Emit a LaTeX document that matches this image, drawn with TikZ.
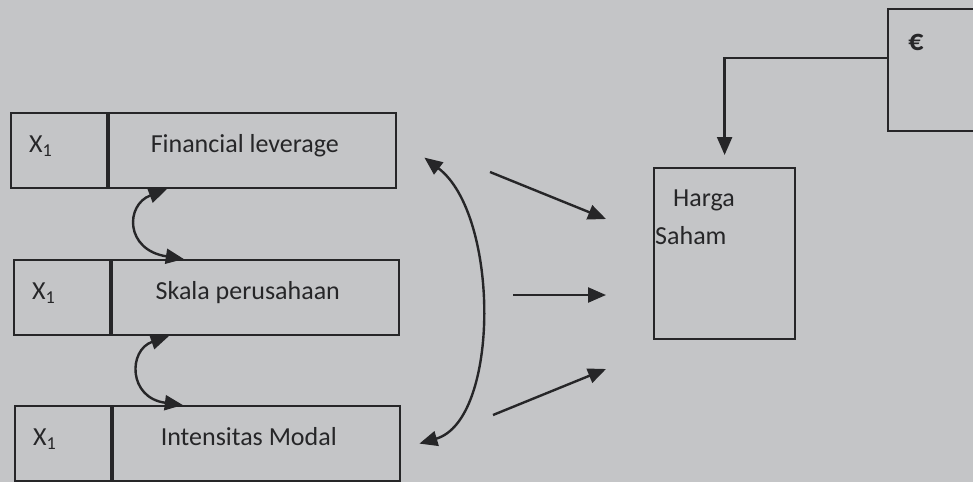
\documentclass[tikz,border=0pt]{standalone}
\usepackage{fontspec}
\setmainfont{Carlito}
\usetikzlibrary{arrows.meta, positioning}
\definecolor{paper}{RGB}{196,197,199}
\definecolor{ink}{RGB}{38,38,40}

\begin{document}
\begin{tikzpicture}[x=1pt, y=-1pt,
        cell/.style={rectangle, draw=ink, line width=2.2pt, minimum height=75pt, inner sep=0pt, text=ink, text height=17pt, text depth=13pt, font=\fontsize{26}{30}\selectfont},
        idcell/.style={cell, minimum width=96pt, text width=60pt, inner xsep=18pt, align=left},
        namecell/.style={cell, minimum width=287pt, execute at end node=\hspace{16pt}},
        link/.style={draw=ink, line width=2.4pt, -{Triangle[length=18pt, width=15pt]}},
        both/.style={link, {Triangle[length=18pt, width=15pt]}-{Triangle[length=18pt, width=15pt]}}
      ]
        % Paper
        \fill[paper] (0,0) rectangle (973,482);
        \useasboundingbox (0,0) rectangle (973,482);

        % Independent variables
        \node[idcell, anchor=north west] (x1) at (10,112) {X\textsubscript{1}};
        \node[namecell, right=0pt of x1] (lev) {Financial leverage};
        \node[idcell, anchor=north west] (x2) at (13,259) {X\textsubscript{1}};
        \node[namecell, right=0pt of x2] (skala) {Skala perusahaan};
        \node[idcell, anchor=north west] (x3) at (14,405) {X\textsubscript{1}};
        \node[namecell, right=0pt of x3] (modal) {Intensitas Modal};

        % Dependent variable
        \node[cell, anchor=north west, minimum width=141pt, minimum height=171pt] (harga) at (653,167) {};
        \node[anchor=north west, inner sep=0pt, align=left, text=ink, font=\fontsize{26}{38}\selectfont] (hargatext) at (655,190) {\hspace{18pt}Harga\\Saham};

        % Error term
        \node[cell, anchor=north west, minimum width=110pt, minimum height=122pt] (err) at (887,8) {};
        \node[anchor=center, inner sep=0pt, text=ink, font=\fontsize{30}{34}\selectfont\bfseries] (euro) at (916,42) {€};

        % Error to dependent variable
        \draw[link] ([yshift=12pt]err.west) -| ([yshift=12pt]harga.north);

        % Effects on Harga Saham
        \coordinate (s1) at (490,172);
        \coordinate (t1) at (606,219);
        \coordinate (s2) at (513,295);
        \coordinate (t2) at (606,295);
        \coordinate (s3) at (493,415);
        \coordinate (t3) at (606,369);
        \draw[link] (s1) -- (t1);
        \draw[link] (s2) -- (t2);
        \draw[link] (s3) -- (t3);

        % Correlations between variables
        \draw[both] ([xshift=-86pt]lev.south) .. controls (125,205) and (125,250) .. ([xshift=-72pt]skala.north);
        \draw[both] ([xshift=-87pt]skala.south) .. controls (128,350) and (128,398) .. ([xshift=-74pt]modal.north);
        \draw[both] ([xshift=27pt,yshift=-7pt]lev.east) .. controls (500,215) and (500,420) .. ([xshift=18pt]modal.east);
      \end{tikzpicture}
\end{document}
